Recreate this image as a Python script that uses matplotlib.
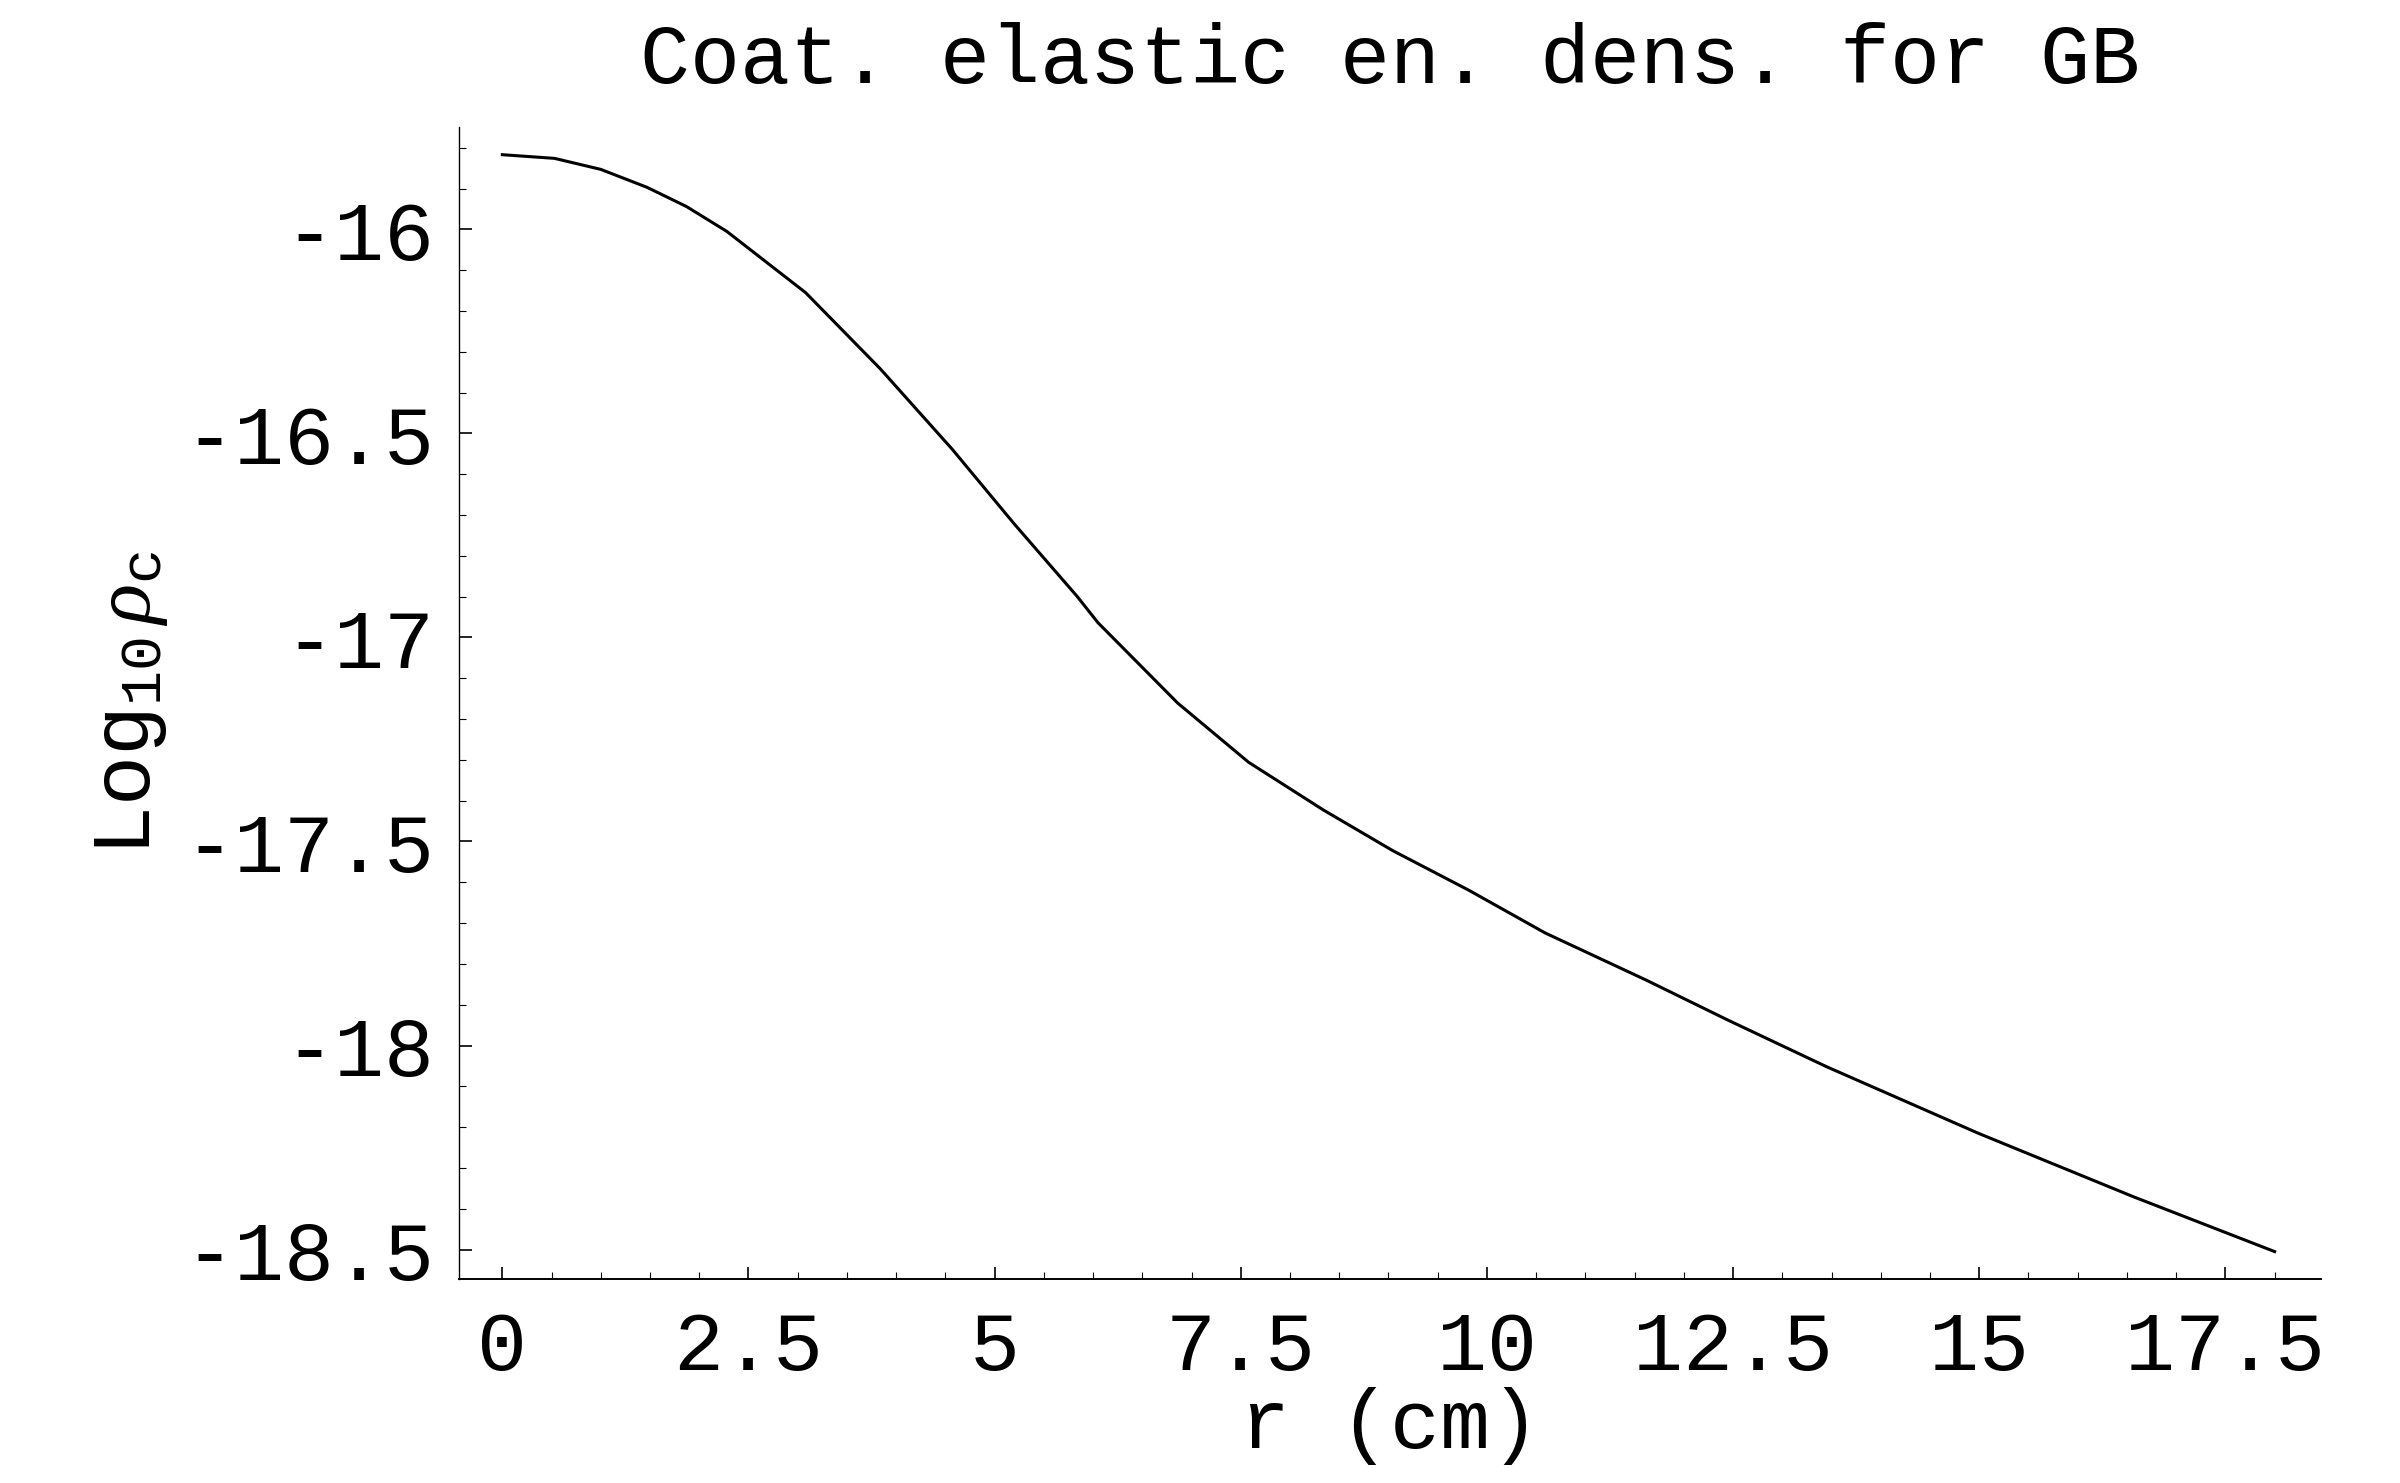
import matplotlib
matplotlib.use('Agg')
import matplotlib.pyplot as plt
from matplotlib.ticker import MultipleLocator, FormatStrFormatter

# values
r_cm = [0.0, 0.53, 1.0, 1.47, 1.87, 2.28, 3.08, 3.84, 4.57, 5.20, 5.84, 6.05,
        6.86, 7.58, 8.34, 9.04, 9.82, 10.59, 11.62, 12.45, 13.45, 14.99, 16.57, 18.0]
log_rho = [-15.817, -15.826, -15.853, -15.897, -15.944, -16.005, -16.155, -16.342,
           -16.539, -16.722, -16.900, -16.964, -17.161, -17.306, -17.423, -17.522,
           -17.620, -17.724, -17.840, -17.938, -18.052, -18.215, -18.371, -18.505]

plt.rcParams['font.family'] = ['Liberation Mono', 'DejaVu Sans']
plt.rcParams['axes.unicode_minus'] = False
plt.rcParams['mathtext.fontset'] = 'custom'
plt.rcParams['mathtext.rm'] = 'Liberation Mono'
plt.rcParams['mathtext.it'] = 'Liberation Serif:italic'

fig = plt.figure(figsize=(24, 14.83), dpi=100)
ax = fig.add_axes([0.19125, 0.1376, 0.7758, 0.7768])

ax.plot(r_cm, log_rho, color='black', lw=2.2)

ax.set_xlim(-0.44, 18.47)
ax.set_ylim(-18.572, -15.749)

for s in ['top', 'right']:
    ax.spines[s].set_visible(False)
ax.spines['left'].set_linewidth(1.0)
ax.spines['bottom'].set_linewidth(1.4)

ax.xaxis.set_major_locator(MultipleLocator(2.5))
ax.xaxis.set_minor_locator(MultipleLocator(0.5))
ax.yaxis.set_major_locator(MultipleLocator(0.5))
ax.yaxis.set_minor_locator(MultipleLocator(0.1))
ax.xaxis.set_major_formatter(FormatStrFormatter('%g'))
ax.yaxis.set_major_formatter(FormatStrFormatter('%g'))

ax.tick_params(which='major', direction='in', length=9, width=1.2, labelsize=60)
ax.tick_params(which='minor', direction='in', length=5, width=0.8)
ax.tick_params(axis='x', which='major', pad=22)
ax.tick_params(axis='y', which='major', pad=18)

ax.set_xlabel('r (cm)', fontsize=60, labelpad=0)
ax.set_ylabel(r'Log$_{\mathrm{10}}\,\rho_{\mathrm{c}}$', fontsize=60, labelpad=10)
ax.set_title('Coat. elastic en. dens. for GB', fontsize=60, pad=32)

fig.savefig('out.png', dpi=100)
